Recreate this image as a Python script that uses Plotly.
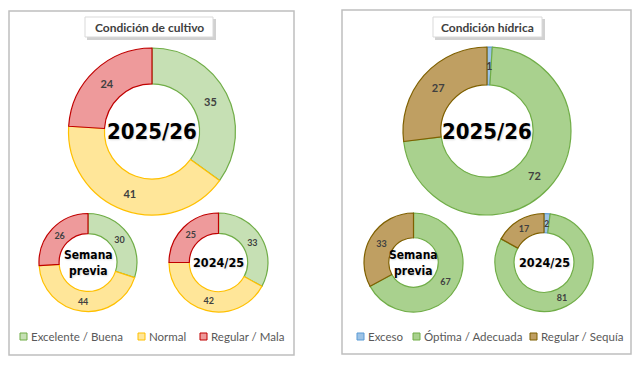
import math
import plotly.graph_objects as go

# the page adds an 8px body margin, so the figure is drawn 8px in from the window edge
OFF = 8
W, H = 640 - OFF, 365 - OFF

# ---------------- data ----------------
cult_labels = ["Excelente / Buena", "Normal", "Regular / Mala"]
cult_2526 = [35, 41, 24]
cult_prev = [30, 44, 26]
cult_2425 = [33, 42, 25]
cult_fill = ["#c6e0b4", "#ffe699", "#ee9a9b"]
cult_line = ["#70ad47", "#ffc000", "#c00000"]

hid_labels = ["Exceso", "Óptima / Adecuada", "Regular / Sequía"]
hid_2526 = [1, 72, 27]
hid_prev = [0, 67, 33]
hid_2425 = [2, 81, 17]
hid_fill = ["#9dc3e6", "#a9d18e", "#bf9f62"]
hid_line = ["#5b9bd5", "#70ad47", "#7f6000"]

panel_titles = ["Condición de cultivo", "Condición hídrica"]
center_big = "2025/26"
center_prev = "Semana<br>previa"
center_old = "2024/25"

# ---------------- helpers ----------------
NARROW = "Liberation Sans Narrow, DejaVu Sans Condensed, Arial Narrow, sans-serif"
BODY = "Lato, Open Sans, sans-serif"


def px(x):
    return (x - OFF) / W


def py(y):
    return 1 - (y - OFF) / H


def dom(cx, cy, r):
    return dict(x=[px(cx - r), px(cx + r)], y=[py(cy + r), py(cy - r)])


fig = go.Figure()
annotations = []
shapes = []


def donut(vals, labels, fill, line, cx, cy, r, hole, title, tsize, lsize):
    txt = [str(v) if v >= 3 else "" for v in vals]
    fig.add_trace(go.Pie(
        values=vals, labels=labels, text=txt, textinfo="text",
        sort=False, direction="clockwise", rotation=0, hole=hole,
        domain=dom(cx, cy, r),
        marker=dict(colors=fill, line=dict(color=line, width=1.2)),
        textposition="inside", insidetextorientation="horizontal",
        textfont=dict(family=BODY, size=lsize, color="#404040", weight="bold"),
        showlegend=False, hoverinfo="label+value",
    ))
    # centre caption
    annotations.append(dict(
        x=px(cx), y=py(cy), xref="paper", yref="paper", xanchor="center", yanchor="middle",
        text=title, showarrow=False,
        font=dict(family=NARROW, size=tsize, color="#000000", weight="bold",
                  shadow="1px 1px 2px rgba(0,0,0,0.15)")))
    # labels for very thin slices, positioned from the data
    tot = sum(vals)
    cum = 0
    rm = r * (1 + hole) / 2
    for v in vals:
        if 0 < v < 3:
            a = 2 * math.pi * (cum + v / 2) / tot
            annotations.append(dict(
                x=px(cx + rm * math.sin(a)), y=py(cy - rm * math.cos(a)),
                xref="paper", yref="paper", xanchor="center", yanchor="middle",
                text=str(v), showarrow=False,
                font=dict(family=BODY, size=lsize, color="#404040", weight="bold")))
        cum += v


# left panel
donut(cult_2526, cult_labels, cult_fill, cult_line, 152, 131.5, 83.5, 0.57, center_big, 22, 11)
donut(cult_prev, cult_labels, cult_fill, cult_line, 88, 262.5, 49, 0.59, center_prev, 12, 9)
donut(cult_2425, cult_labels, cult_fill, cult_line, 218.5, 262.5, 49.5, 0.59, center_old, 12.5, 9)
# right panel
donut(hid_2526, hid_labels, hid_fill, hid_line, 487, 131, 84, 0.55, center_big, 22, 11)
donut(hid_prev, hid_labels, hid_fill, hid_line, 413.5, 262.5, 49.5, 0.5, center_prev, 12, 9)
donut(hid_2425, hid_labels, hid_fill, hid_line, 544, 262.5, 49, 0.61, center_old, 12.5, 9)

# panel borders
for x0, x1, y0, y1 in [(4, 294, 11, 355), (342, 631, 10, 354)]:
    shapes.append(dict(type="rect", xref="paper", yref="paper",
                       x0=px(max(x0, OFF + 1)), x1=px(x1), y0=py(y1), y1=py(max(y0, OFF + 1)),
                       line=dict(color="#bfbfbf", width=1.5), fillcolor="rgba(0,0,0,0)",
                       layer="below"))

# title boxes with shadow
for (x0, x1), t in zip([(85, 213), (433, 542)], panel_titles):
    y0, y1 = 17, 37
    shapes.append(dict(type="rect", xref="paper", yref="paper",
                       x0=px(x0 + 2), x1=px(x1 + 3), y0=py(y1 + 3), y1=py(y0 + 2),
                       line=dict(width=0), fillcolor="rgba(0,0,0,0.18)", layer="below"))
    shapes.append(dict(type="rect", xref="paper", yref="paper",
                       x0=px(x0), x1=px(x1), y0=py(y1), y1=py(y0),
                       line=dict(color="#d9d9d9", width=1), fillcolor="#ffffff", layer="below"))
    annotations.append(dict(x=px((x0 + x1) / 2), y=py((y0 + y1) / 2), xref="paper", yref="paper",
                            xanchor="center", yanchor="middle",
                            text=t, showarrow=False,
                            font=dict(family=BODY, size=12, color="#404040", weight="bold")))

# legends (built from the category lists)
leg_y = 336.5
for labels, fill, line, xs in [
    (cult_labels, cult_fill, cult_line, [20, 138, 200]),
    (hid_labels, hid_fill, hid_line, [357, 413, 530]),
]:
    for lab, fc, lc, x in zip(labels, fill, line, xs):
        shapes.append(dict(type="rect", xref="paper", yref="paper",
                           x0=px(x), x1=px(x + 7), y0=py(leg_y + 3.5), y1=py(leg_y - 3.5),
                           line=dict(color=lc, width=1), fillcolor=fc))
        annotations.append(dict(x=px(x + 9), y=py(leg_y), xref="paper", yref="paper",
                                xanchor="left", yanchor="middle", text=lab, showarrow=False,
                                font=dict(family=BODY, size=11.5, color="#595959")))

fig.update_layout(
    width=W, height=H, margin=dict(l=0, r=0, t=0, b=0),
    paper_bgcolor="#ffffff", plot_bgcolor="#ffffff",
    shapes=shapes, annotations=annotations, showlegend=False,
)

fig.write_html("out.html")
